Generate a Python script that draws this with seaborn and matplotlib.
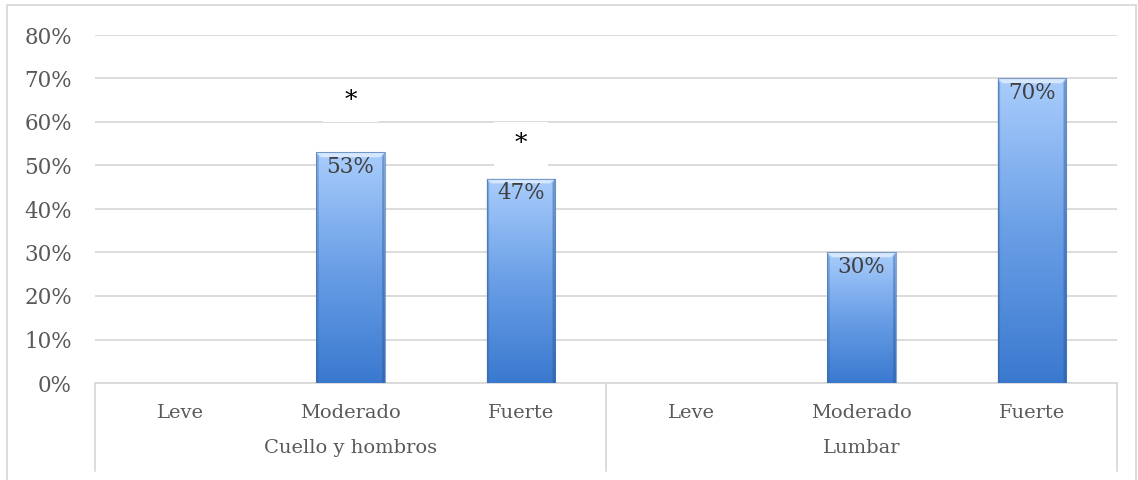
import numpy as np
import pandas as pd
import matplotlib
matplotlib.use("Agg")
import matplotlib.pyplot as plt
import matplotlib.transforms as mtransforms
from matplotlib.patches import Rectangle, Polygon
from matplotlib.colors import LinearSegmentedColormap
import seaborn as sns

# Data
regions = ["Cuello y hombros", "Lumbar"]
levels = ["Leve", "Moderado", "Fuerte"]
percent = [0, 53, 47, 0, 30, 70]
star_levels = [None, 65, 55, None, None, None]
yticks = [0, 10, 20, 30, 40, 50, 60, 70, 80]

keys = [f"{r}|{l}" for r in regions for l in levels]
df = pd.DataFrame({"key": keys, "value": percent})

sns.set_theme(style="white")
plt.rcParams["font.family"] = ["DejaVu Serif"]

fig = plt.figure(figsize=(11.38, 4.80), dpi=100)
ax = fig.add_axes([95 / 1138, 1 - 383 / 480, 1022 / 1138, 348 / 480])

# outer chart frame
fig.patches.append(Rectangle((7 / 1138, -0.05), 1129 / 1138, 1 - 5 / 480 + 0.05,
                             transform=fig.transFigure, fill=False,
                             edgecolor="#d9d9d9", lw=1.3, zorder=0))

sns.barplot(data=df, x="key", y="value", order=keys, color="#5b93e0",
            width=0.4, ax=ax, zorder=3, edgecolor="none", errorbar=None)

cmap = LinearSegmentedColormap.from_list("barfill", ["#3a79cf", "#6a9fe6", "#a9cdfc"])
grad = np.linspace(0, 1, 256).reshape(-1, 1)

for patch, val in zip(ax.patches, percent):
    if val <= 0:
        patch.set_visible(False)
        continue
    x0 = patch.get_x()
    w = patch.get_width()
    x1 = x0 + w
    patch.set_facecolor("none")
    im = ax.imshow(grad, extent=[x0, x1, 0, val], origin="lower", aspect="auto",
                   cmap=cmap, zorder=3, interpolation="bicubic")
    im.set_clip_path(patch)
    # bevelled edges
    dx = w * 0.07
    dy = 1.1
    ax.add_patch(Polygon([(x0, val), (x1, val), (x1 - dx, val - dy), (x0 + dx, val - dy)],
                         closed=True, facecolor="#d6e8ff", edgecolor="none", zorder=4))
    ax.add_patch(Polygon([(x0, 0), (x0 + dx * 0.5, 0), (x0 + dx * 0.5, val - dy), (x0, val)],
                         closed=True, facecolor="#3465a8", alpha=0.35, edgecolor="none", zorder=4))
    ax.add_patch(Polygon([(x1, 0), (x1 - dx * 0.5, 0), (x1 - dx * 0.5, val - dy), (x1, val)],
                         closed=True, facecolor="#2c5694", alpha=0.45, edgecolor="none", zorder=4))
    ax.add_patch(Rectangle((x0, 0), w, val, fill=False, edgecolor="#3d6aa8",
                           lw=0.8, alpha=0.6, zorder=5))
    ax.text(x0 + w / 2, val - 0.9, f"{val}%", ha="center", va="top",
            fontsize=15.5, color="#404040", zorder=6)

# significance markers
for i, lvl in enumerate(star_levels):
    if lvl is None:
        continue
    ax.add_patch(Rectangle((i - 0.16, lvl - 5), 0.32, 10, facecolor="white",
                           edgecolor="none", zorder=2))
    ax.text(i, lvl, "*", ha="center", va="center", fontsize=18, color="black", zorder=6)

ax.set_xlim(-0.5, len(keys) - 0.5)
ax.set_ylim(0, 80)
ax.set_yticks(yticks)
ax.set_yticklabels([f"{t}%" for t in yticks], fontsize=15.5, color="#595959")
ax.tick_params(axis="y", length=0, pad=16.5)
ax.yaxis.grid(True, color="#d9d9d9", lw=1.3, zorder=0)
ax.set_axisbelow(True)
for s in ["left", "right", "top"]:
    ax.spines[s].set_visible(False)
ax.spines["bottom"].set_color("#d9d9d9")
ax.spines["bottom"].set_linewidth(1.3)
ax.set_xlabel("")
ax.set_ylabel("")

# two-level category axis
ax.set_xticks(range(len(keys)))
ax.set_xticklabels([])
ax.tick_params(axis="x", length=0)
trans = mtransforms.blended_transform_factory(ax.transData, ax.transAxes)
ax_h = 348
for i, k in enumerate(keys):
    ax.text(i, -30 / ax_h, k.split("|")[1], transform=trans, ha="center", va="center",
            fontsize=14, color="#595959", clip_on=False)
for j, r in enumerate(regions):
    ax.text(j * 3 + 1, -65 / ax_h, r, transform=trans, ha="center", va="center",
            fontsize=14, color="#595959", clip_on=False)
for xs in [-0.5, 2.5, 5.5]:
    ax.plot([xs, xs], [0, -88 / ax_h], transform=trans, color="#d9d9d9", lw=1.3,
            clip_on=False)

fig.savefig("out.png", dpi=100)
